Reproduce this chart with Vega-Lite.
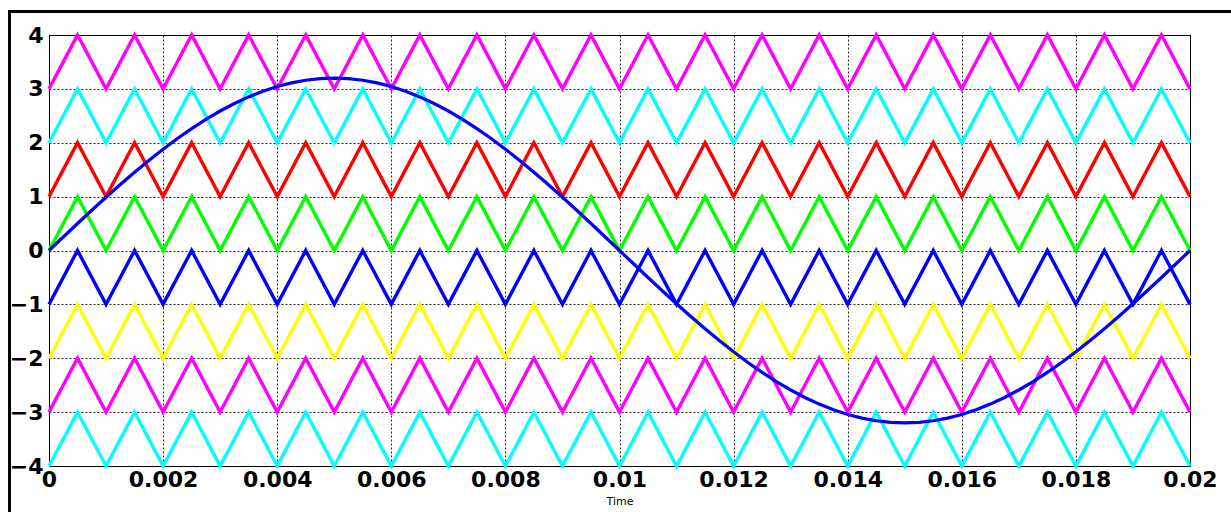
{
  "$schema": "https://vega.github.io/schema/vega-lite/v6.json",
  "width": 1141,
  "height": 431,
  "autosize": {"type": "none"},
  "padding": {"left": 49, "top": 35, "right": 41, "bottom": 46},
  "background": "white",
  "config": {
    "view": {"stroke": "black", "strokeWidth": 1},
    "font": "DejaVu Sans"
  },
  "datasets": {
    "frame": [{"x1": -0.000692, "x2": 0.0212, "y1": 4.4365, "y2": -5.2}],
    "carriers": [
      {"t": 0, "c1": 3, "c2": 2, "c3": 1, "c4": 0, "c5": -1, "c6": -2, "c7": -3, "c8": -4},
      {"t": 0.0005, "c1": 4, "c2": 3, "c3": 2, "c4": 1, "c5": 0, "c6": -1, "c7": -2, "c8": -3},
      {"t": 0.001, "c1": 3, "c2": 2, "c3": 1, "c4": 0, "c5": -1, "c6": -2, "c7": -3, "c8": -4},
      {"t": 0.0015, "c1": 4, "c2": 3, "c3": 2, "c4": 1, "c5": 0, "c6": -1, "c7": -2, "c8": -3},
      {"t": 0.002, "c1": 3, "c2": 2, "c3": 1, "c4": 0, "c5": -1, "c6": -2, "c7": -3, "c8": -4},
      {"t": 0.0025, "c1": 4, "c2": 3, "c3": 2, "c4": 1, "c5": 0, "c6": -1, "c7": -2, "c8": -3},
      {"t": 0.003, "c1": 3, "c2": 2, "c3": 1, "c4": 0, "c5": -1, "c6": -2, "c7": -3, "c8": -4},
      {"t": 0.0035, "c1": 4, "c2": 3, "c3": 2, "c4": 1, "c5": 0, "c6": -1, "c7": -2, "c8": -3},
      {"t": 0.004, "c1": 3, "c2": 2, "c3": 1, "c4": 0, "c5": -1, "c6": -2, "c7": -3, "c8": -4},
      {"t": 0.0045, "c1": 4, "c2": 3, "c3": 2, "c4": 1, "c5": 0, "c6": -1, "c7": -2, "c8": -3},
      {"t": 0.005, "c1": 3, "c2": 2, "c3": 1, "c4": 0, "c5": -1, "c6": -2, "c7": -3, "c8": -4},
      {"t": 0.0055, "c1": 4, "c2": 3, "c3": 2, "c4": 1, "c5": 0, "c6": -1, "c7": -2, "c8": -3},
      {"t": 0.006, "c1": 3, "c2": 2, "c3": 1, "c4": 0, "c5": -1, "c6": -2, "c7": -3, "c8": -4},
      {"t": 0.0065, "c1": 4, "c2": 3, "c3": 2, "c4": 1, "c5": 0, "c6": -1, "c7": -2, "c8": -3},
      {"t": 0.007, "c1": 3, "c2": 2, "c3": 1, "c4": 0, "c5": -1, "c6": -2, "c7": -3, "c8": -4},
      {"t": 0.0075, "c1": 4, "c2": 3, "c3": 2, "c4": 1, "c5": 0, "c6": -1, "c7": -2, "c8": -3},
      {"t": 0.008, "c1": 3, "c2": 2, "c3": 1, "c4": 0, "c5": -1, "c6": -2, "c7": -3, "c8": -4},
      {"t": 0.0085, "c1": 4, "c2": 3, "c3": 2, "c4": 1, "c5": 0, "c6": -1, "c7": -2, "c8": -3},
      {"t": 0.009, "c1": 3, "c2": 2, "c3": 1, "c4": 0, "c5": -1, "c6": -2, "c7": -3, "c8": -4},
      {"t": 0.0095, "c1": 4, "c2": 3, "c3": 2, "c4": 1, "c5": 0, "c6": -1, "c7": -2, "c8": -3},
      {"t": 0.01, "c1": 3, "c2": 2, "c3": 1, "c4": 0, "c5": -1, "c6": -2, "c7": -3, "c8": -4},
      {"t": 0.0105, "c1": 4, "c2": 3, "c3": 2, "c4": 1, "c5": 0, "c6": -1, "c7": -2, "c8": -3},
      {"t": 0.011, "c1": 3, "c2": 2, "c3": 1, "c4": 0, "c5": -1, "c6": -2, "c7": -3, "c8": -4},
      {"t": 0.0115, "c1": 4, "c2": 3, "c3": 2, "c4": 1, "c5": 0, "c6": -1, "c7": -2, "c8": -3},
      {"t": 0.012, "c1": 3, "c2": 2, "c3": 1, "c4": 0, "c5": -1, "c6": -2, "c7": -3, "c8": -4},
      {"t": 0.0125, "c1": 4, "c2": 3, "c3": 2, "c4": 1, "c5": 0, "c6": -1, "c7": -2, "c8": -3},
      {"t": 0.013, "c1": 3, "c2": 2, "c3": 1, "c4": 0, "c5": -1, "c6": -2, "c7": -3, "c8": -4},
      {"t": 0.0135, "c1": 4, "c2": 3, "c3": 2, "c4": 1, "c5": 0, "c6": -1, "c7": -2, "c8": -3},
      {"t": 0.014, "c1": 3, "c2": 2, "c3": 1, "c4": 0, "c5": -1, "c6": -2, "c7": -3, "c8": -4},
      {"t": 0.0145, "c1": 4, "c2": 3, "c3": 2, "c4": 1, "c5": 0, "c6": -1, "c7": -2, "c8": -3},
      {"t": 0.015, "c1": 3, "c2": 2, "c3": 1, "c4": 0, "c5": -1, "c6": -2, "c7": -3, "c8": -4},
      {"t": 0.0155, "c1": 4, "c2": 3, "c3": 2, "c4": 1, "c5": 0, "c6": -1, "c7": -2, "c8": -3},
      {"t": 0.016, "c1": 3, "c2": 2, "c3": 1, "c4": 0, "c5": -1, "c6": -2, "c7": -3, "c8": -4},
      {"t": 0.0165, "c1": 4, "c2": 3, "c3": 2, "c4": 1, "c5": 0, "c6": -1, "c7": -2, "c8": -3},
      {"t": 0.017, "c1": 3, "c2": 2, "c3": 1, "c4": 0, "c5": -1, "c6": -2, "c7": -3, "c8": -4},
      {"t": 0.0175, "c1": 4, "c2": 3, "c3": 2, "c4": 1, "c5": 0, "c6": -1, "c7": -2, "c8": -3},
      {"t": 0.018, "c1": 3, "c2": 2, "c3": 1, "c4": 0, "c5": -1, "c6": -2, "c7": -3, "c8": -4},
      {"t": 0.0185, "c1": 4, "c2": 3, "c3": 2, "c4": 1, "c5": 0, "c6": -1, "c7": -2, "c8": -3},
      {"t": 0.019, "c1": 3, "c2": 2, "c3": 1, "c4": 0, "c5": -1, "c6": -2, "c7": -3, "c8": -4},
      {"t": 0.0195, "c1": 4, "c2": 3, "c3": 2, "c4": 1, "c5": 0, "c6": -1, "c7": -2, "c8": -3},
      {"t": 0.02, "c1": 3, "c2": 2, "c3": 1, "c4": 0, "c5": -1, "c6": -2, "c7": -3, "c8": -4}
    ],
    "sine": [
      {"t": 0, "v": 0}, {"t": 0.00025, "v": 0.2511}, {"t": 0.0005, "v": 0.5006}, {"t": 0.00075, "v": 0.747},
      {"t": 0.001, "v": 0.9889}, {"t": 0.00125, "v": 1.2246}, {"t": 0.0015, "v": 1.4528}, {"t": 0.00175, "v": 1.672},
      {"t": 0.002, "v": 1.8809}, {"t": 0.00225, "v": 2.0782}, {"t": 0.0025, "v": 2.2627}, {"t": 0.00275, "v": 2.4333},
      {"t": 0.003, "v": 2.5889}, {"t": 0.00325, "v": 2.7284}, {"t": 0.0035, "v": 2.8512}, {"t": 0.00375, "v": 2.9564},
      {"t": 0.004, "v": 3.0434}, {"t": 0.00425, "v": 3.1116}, {"t": 0.0045, "v": 3.1606}, {"t": 0.00475, "v": 3.1901},
      {"t": 0.005, "v": 3.2}, {"t": 0.00525, "v": 3.1901}, {"t": 0.0055, "v": 3.1606}, {"t": 0.00575, "v": 3.1116},
      {"t": 0.006, "v": 3.0434}, {"t": 0.00625, "v": 2.9564}, {"t": 0.0065, "v": 2.8512}, {"t": 0.00675, "v": 2.7284},
      {"t": 0.007, "v": 2.5889}, {"t": 0.00725, "v": 2.4333}, {"t": 0.0075, "v": 2.2627}, {"t": 0.00775, "v": 2.0782},
      {"t": 0.008, "v": 1.8809}, {"t": 0.00825, "v": 1.672}, {"t": 0.0085, "v": 1.4528}, {"t": 0.00875, "v": 1.2246},
      {"t": 0.009, "v": 0.9889}, {"t": 0.00925, "v": 0.747}, {"t": 0.0095, "v": 0.5006}, {"t": 0.00975, "v": 0.2511},
      {"t": 0.01, "v": 0}, {"t": 0.01025, "v": -0.2511}, {"t": 0.0105, "v": -0.5006}, {"t": 0.01075, "v": -0.747},
      {"t": 0.011, "v": -0.9889}, {"t": 0.01125, "v": -1.2246}, {"t": 0.0115, "v": -1.4528}, {"t": 0.01175, "v": -1.672},
      {"t": 0.012, "v": -1.8809}, {"t": 0.01225, "v": -2.0782}, {"t": 0.0125, "v": -2.2627}, {"t": 0.01275, "v": -2.4333},
      {"t": 0.013, "v": -2.5889}, {"t": 0.01325, "v": -2.7284}, {"t": 0.0135, "v": -2.8512}, {"t": 0.01375, "v": -2.9564},
      {"t": 0.014, "v": -3.0434}, {"t": 0.01425, "v": -3.1116}, {"t": 0.0145, "v": -3.1606}, {"t": 0.01475, "v": -3.1901},
      {"t": 0.015, "v": -3.2}, {"t": 0.01525, "v": -3.1901}, {"t": 0.0155, "v": -3.1606}, {"t": 0.01575, "v": -3.1116},
      {"t": 0.016, "v": -3.0434}, {"t": 0.01625, "v": -2.9564}, {"t": 0.0165, "v": -2.8512}, {"t": 0.01675, "v": -2.7284},
      {"t": 0.017, "v": -2.5889}, {"t": 0.01725, "v": -2.4333}, {"t": 0.0175, "v": -2.2627}, {"t": 0.01775, "v": -2.0782},
      {"t": 0.018, "v": -1.8809}, {"t": 0.01825, "v": -1.672}, {"t": 0.0185, "v": -1.4528}, {"t": 0.01875, "v": -1.2246},
      {"t": 0.019, "v": -0.9889}, {"t": 0.01925, "v": -0.747}, {"t": 0.0195, "v": -0.5006}, {"t": 0.01975, "v": -0.2511},
      {"t": 0.02, "v": 0}
    ]
  },
  "layer": [
    {
      "data": {"name": "frame"},
      "mark": {"type": "rect", "fill": null, "fillOpacity": 0, "stroke": "black", "strokeWidth": 3, "clip": false},
      "encoding": {
        "x": {"field": "x1", "type": "quantitative", "scale": {"domain": [0, 0.02], "nice": false, "zero": false},
          "axis": {"title": "Time", "titleFontSize": 11, "titleFontWeight": "normal", "titleFont": "DejaVu Sans", "titlePadding": 5, "titleColor": "black",
            "values": [0, 0.002, 0.004, 0.006, 0.008, 0.01, 0.012, 0.014, 0.016, 0.018, 0.02],
            "labelFontSize": 22, "labelFontWeight": "bold", "labelColor": "black", "labelPadding": 3, "labelFlush": false, "labelOverlap": false,
            "labelExpr": "format(datum.value, '~r')",
            "domain": false, "ticks": false,
            "grid": true, "gridColor": "black", "gridDash": [2, 2], "gridWidth": 1, "gridOpacity": 0.85}},
        "x2": {"field": "x2"},
        "y": {"field": "y1", "type": "quantitative", "scale": {"domain": [-4, 4], "nice": false, "zero": false},
          "axis": {"title": null, "values": [-4, -3, -2, -1, 0, 1, 2, 3, 4],
            "labelFontSize": 22, "labelFontWeight": "bold", "labelColor": "black", "labelPadding": 6, "labelFlush": false, "labelOverlap": false,
            "domain": false, "ticks": false,
            "grid": true, "gridColor": "black", "gridDash": [2, 2], "gridWidth": 1, "gridOpacity": 0.85}},
        "y2": {"field": "y2"}
      }
    },
    {
      "data": {"name": "carriers"},
      "transform": [{"fold": ["c1", "c2", "c3", "c4", "c5", "c6", "c7", "c8"], "as": ["s", "v"]}],
      "mark": {"type": "line", "strokeWidth": 3.4},
      "encoding": {
        "x": {"field": "t", "type": "quantitative"},
        "y": {"field": "v", "type": "quantitative"},
        "color": {"field": "s", "type": "nominal", "legend": null,
          "scale": {"domain": ["c1", "c2", "c3", "c4", "c5", "c6", "c7", "c8"],
            "range": ["#ff00ff", "#00ffff", "#ff0000", "#00ff00", "#0000ff", "#ffff00", "#ff00ff", "#00ffff"]}}
      }
    },
    {
      "data": {"name": "sine"},
      "mark": {"type": "line", "strokeWidth": 3.2, "color": "#0000ff"},
      "encoding": {
        "x": {"field": "t", "type": "quantitative"},
        "y": {"field": "v", "type": "quantitative"}
      }
    }
  ]
}
